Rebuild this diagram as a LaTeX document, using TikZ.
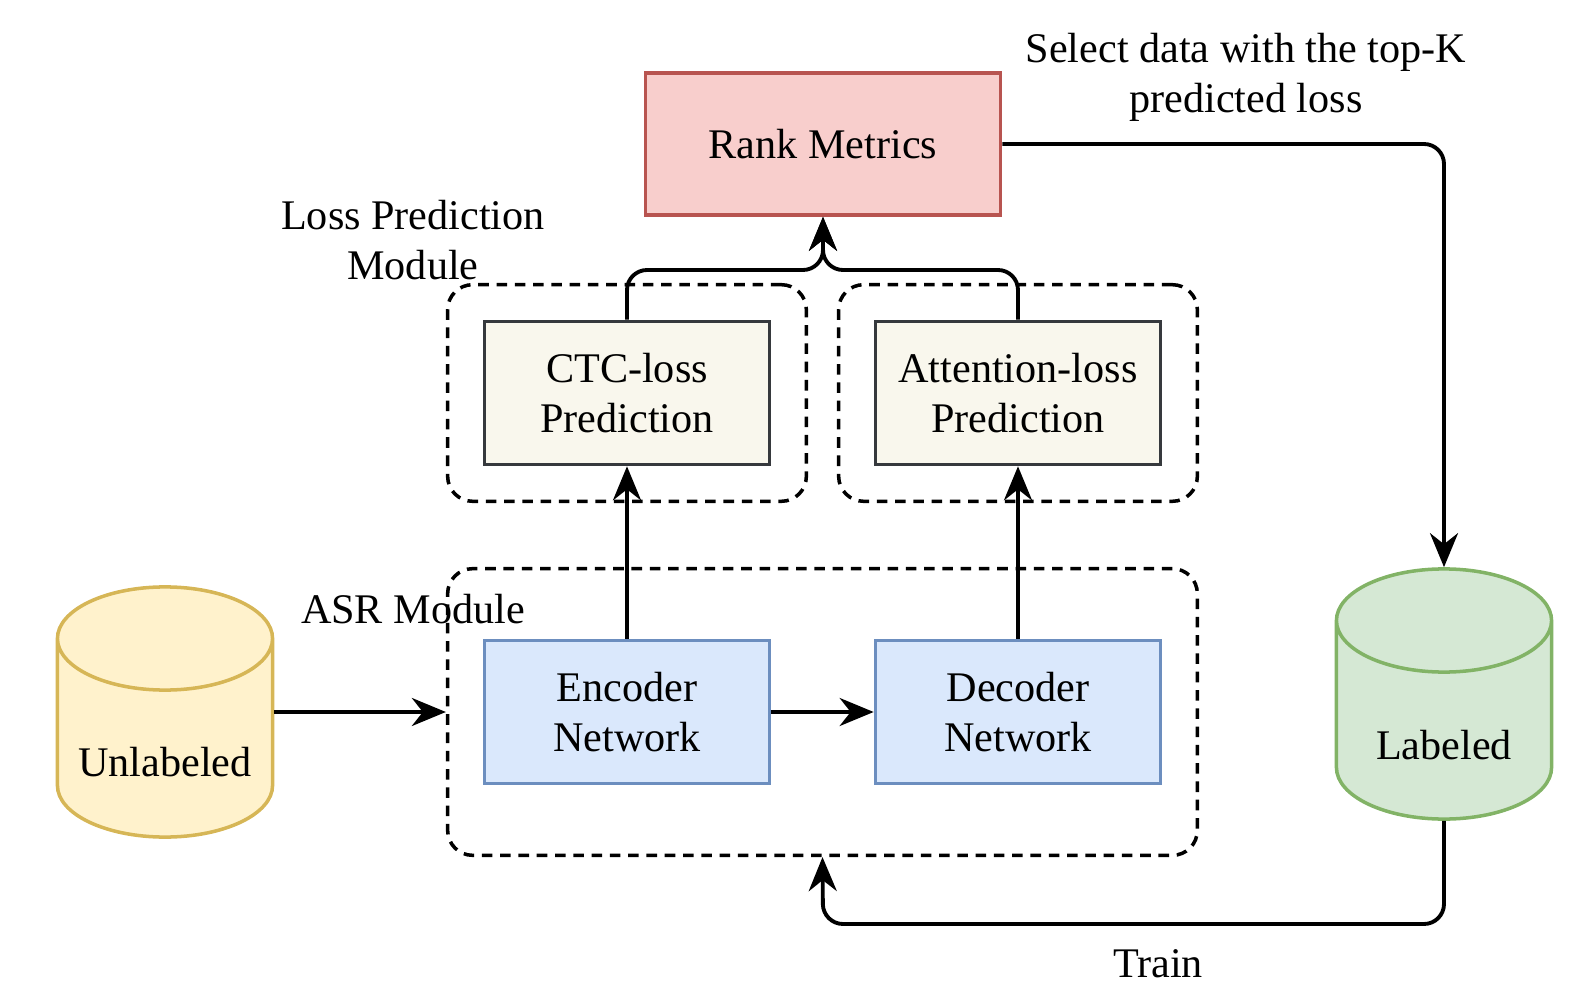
\documentclass[tikz,border=0pt]{standalone}
\usepackage{fontspec}
\setmainfont{Liberation Serif}
\usepackage{tikz}
\usepackage{xcolor}
\usetikzlibrary{shapes, shapes.geometric, arrows, arrows.meta, positioning, fit}

\definecolor{redfill}{HTML}{F8CECC}
\definecolor{redline}{HTML}{B85450}
\definecolor{bluefill}{HTML}{DAE8FC}
\definecolor{blueline}{HTML}{6C8EBF}
\definecolor{yellowfill}{HTML}{FFF2CC}
\definecolor{yellowline}{HTML}{D6B656}
\definecolor{greenfill}{HTML}{D5E8D4}
\definecolor{greenline}{HTML}{82B366}
\definecolor{beigefill}{HTML}{F9F7ED}
\definecolor{beigeline}{HTML}{36393D}

\begin{document}
\begin{tikzpicture}[x=0.01cm, y=-0.01cm, line width=1.1pt,
    >={Stealth[length=3.4mm, width=2.8mm, inset=1.1mm]},
    font=\fontsize{12}{14.2}\selectfont,
    box/.style={rectangle, draw, line width=1pt, align=center, minimum width=2.85cm, minimum height=1.43cm},
    db/.style={cylinder, shape border rotate=90, draw, line width=1pt, aspect=4.4, minimum width=2.15cm, minimum height=2.5cm, anchor=shape center},
    group/.style={draw, line width=1pt, rounded corners=0.25cm, dash pattern=on 3pt off 2.2pt},
    link/.style={->, rounded corners=0.2cm}]
    \useasboundingbox (0, 0) rectangle (1578, 988);
        \node [box, fill=redfill, draw=redline, minimum width=3.55cm, minimum height=1.42cm] (rank) at (823, 144) {Rank Metrics};
        \node [box, fill=beigefill, draw=beigeline] (ctc) at (627, 393) {CTC-loss\\Prediction};
        \node [box, fill=beigefill, draw=beigeline] (att) at (1018, 393) {Attention-loss\\Prediction};
        \node [box, fill=bluefill, draw=blueline] (enc) at (627, 712) {Encoder\\Network};
        \node [box, fill=bluefill, draw=blueline] (dec) at (1018, 712) {Decoder\\Network};
        \node [group, fit=(ctc), inner sep=0.35cm] (ctcgroup) {};
        \node [group, fit=(att), inner sep=0.35cm] (attgroup) {};
        \node [group, fit=(enc) (dec), inner xsep=0.35cm, inner ysep=0.7cm] (asr) {};
        \node [db, fill=yellowfill, draw=yellowline, label={[anchor=center, yshift=0.77cm]south:Unlabeled}] (unlab) at (165, 712) {};
        \node [db, fill=greenfill, draw=greenline, label={[anchor=center, yshift=0.76cm]south:Labeled}] (lab) at (1444, 694) {};
        \node [align=center] (losslabel) at (413, 240) {Loss Prediction\\Module};
        \node (asrlabel) at (413, 609) {ASR Module};
        \node [align=center] (selectlabel) at (1246, 77) {Select data with the top-K\\predicted loss};
        \node (trainlabel) at (1158, 964) {Train};
        \coordinate (bus) at (823, 270);
        \coordinate (loop) at (823, 924);
        \draw [link] (ctc.north) |- (bus) -- (rank.south);
        \draw [link] (att.north) |- (bus) -- (rank.south);
        \draw [link] (enc.north) -- (ctc.south);
        \draw [link] (dec.north) -- (att.south);
        \draw [link] (enc.east) -- (dec.west);
        \draw [link] (unlab.east |- asr.west) -- (asr.west);
        \draw [link] (rank.east) -| (lab.north);
        \draw [link] (lab.south) |- (loop) -- (asr.south);
    \end{tikzpicture}
\end{document}
